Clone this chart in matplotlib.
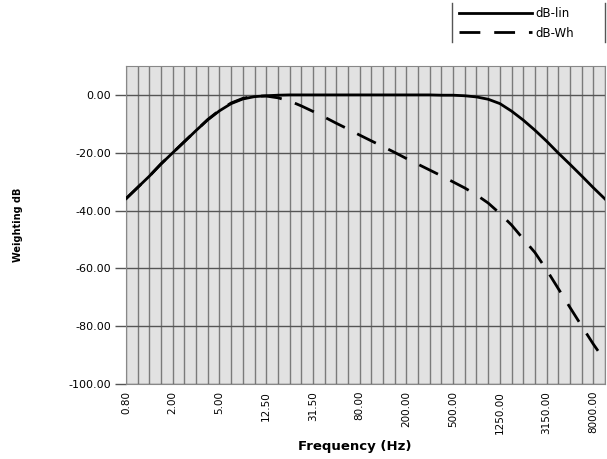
import matplotlib
matplotlib.use("Agg")
import matplotlib.pyplot as plt
from matplotlib.lines import Line2D

plt.rcParams['font.family'] = ['DejaVu Sans']

freqs = [0.8, 1.0, 1.25, 1.6, 2.0, 2.5, 3.15, 4.0, 5.0, 6.3, 8.0, 10.0, 12.5, 16.0,
         20.0, 25.0, 31.5, 40.0, 50.0, 63.0, 80.0, 100.0, 125.0, 160.0, 200.0, 250.0,
         315.0, 400.0, 500.0, 630.0, 800.0, 1000.0, 1250.0, 1600.0, 2000.0, 2500.0,
         3150.0, 4000.0, 5000.0, 6300.0, 8000.0, 10000.0]

db_lin = [-35.9, -32.0, -28.1, -23.9, -20.0, -16.2, -12.3, -8.6, -5.5, -3.0, -1.4, -0.6,
          -0.3, -0.1, 0.0, 0.0, 0.0, 0.0, 0.0, 0.0, 0.0, 0.0, 0.0, 0.0, 0.0, 0.0,
          0.0, -0.1, -0.1, -0.3, -0.7, -1.5, -3.0, -5.6, -8.7, -12.2, -16.0, -20.1,
          -24.0, -28.0, -32.1, -36.0]

db_wh = [-35.9, -32.0, -28.1, -23.8, -20.0, -16.1, -12.3, -8.5, -5.3, -2.8, -1.2, -0.4,
         -0.4, -1.0, -2.1, -3.8, -5.7, -7.7, -9.8, -11.8, -13.9, -15.9, -17.9, -19.9,
         -22.0, -24.0, -26.0, -28.0, -30.1, -32.2, -34.6, -37.4, -41.0, -45.0, -49.8,
         -54.5, -60.5, -67.0, -73.5, -79.9, -86.2, -92.0]

yticks = [-100, -80, -60, -40, -20, 0]
label_every = 4

fig = plt.figure(figsize=(6.07, 4.59), dpi=100)
ax = fig.add_axes([0.2076, 0.1634, 0.7891, 0.6928])
ax.set_facecolor('#e2e2e2')

x = list(range(len(freqs)))
ax.plot(x, db_lin, color='black', lw=2.0, label='dB-lin', zorder=3)
ax.plot(x, db_wh, color='black', lw=2.0, dashes=(7.5, 5), label='dB-Wh', zorder=3)

ax.set_xlim(0, len(freqs) - 1)
ax.set_ylim(-100, 10)

ax.set_xticks(x, minor=True)
ax.set_xticks(x[::label_every])
ax.set_xticklabels(['%.2f' % f for f in freqs[::label_every]], rotation=90, fontsize=7.5)
ax.set_yticks(yticks)
ax.set_yticklabels(['%.2f' % v for v in yticks], fontsize=8)

ax.grid(True, axis='x', which='both', color='#7a7a7a', lw=1.0)
ax.grid(True, axis='y', which='major', color='#555555', lw=1.0)
ax.set_axisbelow(True)

ax.tick_params(axis='x', which='both', length=0, pad=5)
ax.tick_params(axis='y', length=8, width=1.0, color='#555555', pad=3)
for s in ax.spines.values():
    s.set_color('#888888')
    s.set_linewidth(0.8)

ax.set_ylabel('Weighting dB', fontsize=7, fontweight='bold')
ax.yaxis.set_label_coords(-0.215, 0.5)
ax.set_xlabel('Frequency (Hz)', fontsize=9.5, fontweight='bold')
ax.xaxis.set_label_coords(0.478, -0.175)

leg = fig.legend(loc='upper left', bbox_to_anchor=(0.748, 0.995), frameon=False,
                 fontsize=8.5, handlelength=6.2, handletextpad=0.25, labelspacing=0.55,
                 borderaxespad=0.0)
fig.add_artist(Line2D([0.745, 0.745], [0.908, 0.994], transform=fig.transFigure,
                      color='#555555', lw=1.0))
fig.add_artist(Line2D([0.997, 0.997], [0.908, 0.994], transform=fig.transFigure,
                      color='#555555', lw=1.0))

fig.savefig('out.png', dpi=100)
